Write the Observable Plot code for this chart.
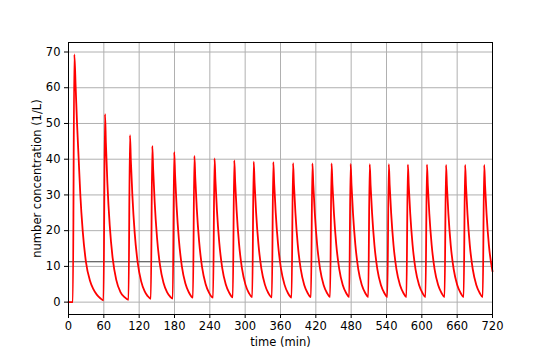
<!DOCTYPE html>
<html>
<head>
<meta charset="utf-8">
<script src="https://cdn.jsdelivr.net/npm/d3@7"></script>
<script src="https://cdn.jsdelivr.net/npm/@observablehq/plot@0.6"></script>
<style>
  html, body { margin: 0; padding: 0; background: white; }
  #chart { width: 548px; height: 353px; }
</style>
</head>
<body>
<div id="chart"></div>
<script>
// time (min)
const time = [
  0, 7.4, 9.9, 12.2, 14.5, 17.3, 20.1, 24.1, 29.6, 36.5, 42, 48, 54, 59.4,
  62.0, 63.5, 66, 70, 75, 81, 88, 95, 101.9,
  104.4, 105.9, 108.4, 112.4, 117.4, 123.4, 129.4, 134.4, 139.8,
  142.3, 143.8, 146.3, 150.3, 155.3, 161.3, 167.3, 172.3, 177.0,
  179.5, 181, 183.5, 187.5, 192.5, 198.5, 204.5, 211.3,
  213.8, 215.3, 217.8, 221.8, 226.8, 232.8, 238.8, 245.5,
  248, 249.5, 252, 256, 261, 267, 273, 279,
  281.5, 283, 285.5, 289.5, 294.5, 300.5, 306.5, 312,
  314.5, 316, 318.5, 322.5, 327.5, 333.5, 339.5, 345.3,
  347.8, 349.3, 351.8, 355.8, 360.8, 366.8, 372.8, 378.8,
  381.3, 382.8, 385.3, 389.3, 394.3, 400.3, 406.3, 411.7,
  414.2, 415.7, 418.2, 422.2, 427.2, 433.2, 439.2, 444.2,
  446.7, 448.2, 450.7, 454.7, 459.7, 465.7, 471.7, 476.6,
  479.1, 480.6, 483.1, 487.1, 492.1, 498.1, 504.1, 509.0,
  511.5, 513, 515.5, 519.5, 524.5, 530.5, 536.5, 541.4,
  543.9, 545.4, 547.9, 551.9, 556.9, 562.9, 568.9, 573.8,
  576.3, 577.8, 580.3, 584.3, 589.3, 595.3, 601.3, 606.2,
  608.7, 610.2, 612.7, 616.7, 621.7, 627.7, 633.7, 638.6,
  641.1, 642.6, 645.1, 649.1, 654.1, 660.1, 666.1, 671.0,
  673.5, 675, 677.5, 681.5, 686.5, 692.5, 698.5, 703.4,
  705.9, 707.4, 709.9, 713.9, 720
];
// number concentration (1/L)
const conc = [
  0, 0, 69.3, 60, 50, 40, 30, 20, 11.3, 6, 3.7, 2.1, 1.1, 0.5,
  52.6, 44.5, 33.5, 21.5, 12.3, 6.3, 2.9, 1.4, 0.65,
  46.7, 39.6, 30.1, 19.4, 11.2, 5.8, 3.0, 1.7, 0.95,
  43.7, 37.1, 28.1, 18.1, 10.4, 5.4, 2.8, 1.6, 0.96,
  42.0, 35.6, 27.0, 17.4, 10.0, 5.2, 2.7, 1.27,
  40.9, 34.7, 26.3, 17.0, 9.8, 5.1, 2.6, 1.25,
  40.2, 34.1, 25.9, 16.7, 9.6, 5.0, 2.6, 1.33,
  39.7, 33.7, 25.6, 16.5, 9.5, 4.9, 2.5, 1.39,
  39.3, 33.3, 25.3, 16.3, 9.4, 4.9, 2.5, 1.32,
  39.2, 33.2, 25.2, 16.3, 9.4, 4.9, 2.5, 1.3,
  38.9, 33.0, 25.1, 16.1, 9.3, 4.8, 2.5, 1.38,
  38.8, 32.9, 25.0, 16.1, 9.3, 4.8, 2.5, 1.44,
  38.8, 32.9, 25.0, 16.1, 9.3, 4.8, 2.5, 1.44,
  38.7, 32.8, 24.9, 16.1, 9.2, 4.8, 2.5, 1.44,
  38.6, 32.7, 24.9, 16.0, 9.2, 4.8, 2.5, 1.44,
  38.6, 32.7, 24.9, 16.0, 9.2, 4.8, 2.5, 1.44,
  38.5, 32.6, 24.8, 16.0, 9.2, 4.8, 2.5, 1.43,
  38.5, 32.6, 24.8, 16.0, 9.2, 4.8, 2.5, 1.43,
  38.4, 32.6, 24.7, 15.9, 9.2, 4.8, 2.5, 1.43,
  38.4, 32.6, 24.7, 15.9, 9.2, 4.8, 2.5, 1.43,
  38.4, 32.6, 24.7, 15.9, 8.6
];
const threshold = [11.3];
const xTicks = [0, 60, 120, 180, 240, 300, 360, 420, 480, 540, 600, 660, 720];
const yTicks = [0, 10, 20, 30, 40, 50, 60, 70];
const xLabel = "time (min)";
const yLabel = "number concentration (1/L)";

const data = time.map((t, i) => ({t, v: conc[i]}));

const chart = Plot.plot({
  width: 548,
  height: 353,
  marginLeft: 68,
  marginRight: 56,
  marginTop: 42,
  marginBottom: 39,
  style: {fontFamily: "DejaVu Sans", fontSize: "11.5px", background: "white", color: "black"},
  x: {domain: [0, 720]},
  y: {domain: [-3.46, 72.66]},
  marks: [
    Plot.gridX(xTicks, {stroke: "#b0b0b0", strokeOpacity: 1, strokeWidth: 1}),
    Plot.gridY(yTicks, {stroke: "#b0b0b0", strokeOpacity: 1, strokeWidth: 1}),
    Plot.ruleY(threshold, {stroke: "#3a3a3a", strokeWidth: 1}),
    Plot.line(data, {x: "t", y: "v", stroke: "#ff0000", strokeWidth: 1.8, curve: "monotone-x"}),
    Plot.frame({stroke: "black", strokeWidth: 1}),
    Plot.axisX(xTicks, {tickSize: 4, tickPadding: 3, label: null, fontSize: 11.5, tickFormat: d => String(d)}),
    Plot.axisY(yTicks, {tickSize: 4, tickPadding: 4, label: null, fontSize: 11.5, tickFormat: d => String(d)}),
    Plot.text([xLabel], {frameAnchor: "bottom", dy: 28, text: d => d, fontSize: 11.5, lineAnchor: "middle", textAnchor: "middle"}),
    Plot.text([yLabel], {frameAnchor: "left", dx: -31, rotate: -90, text: d => d, fontSize: 11.5, lineAnchor: "middle", textAnchor: "middle"})
  ]
});
document.getElementById("chart").appendChild(chart);
</script>
</body>
</html>
